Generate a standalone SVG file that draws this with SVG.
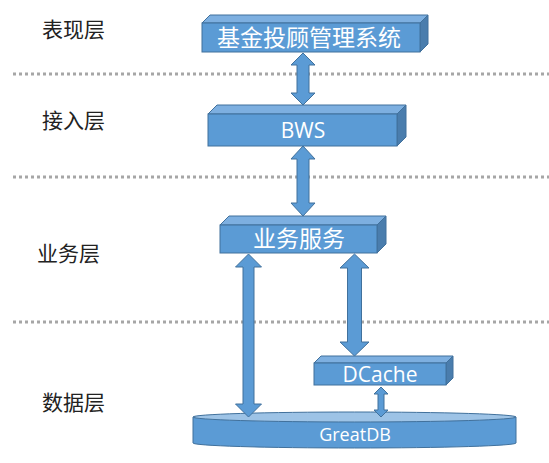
<svg xmlns="http://www.w3.org/2000/svg" width="549" height="463" viewBox="0 0 549 463">
<style>
.front{fill:#5B9BD5;stroke:#41719C;stroke-width:1}
.top{fill:#7DAFE0;stroke:#41719C;stroke-width:1}
.side{fill:#4A7DAD;stroke:#41719C;stroke-width:1}
.arrow{fill:#5B9BD5;stroke:#41719C;stroke-width:1}
.sep{stroke:#A6A6A6;stroke-width:3;stroke-dasharray:3 3;fill:none}
.layer{font-family:"Noto Sans CJK SC","Noto Sans",sans-serif;font-size:21px;fill:#222}
.cn{font-family:"Noto Sans CJK SC","Noto Sans",sans-serif;font-size:23px;fill:#fff;text-anchor:middle}
.en{font-family:"Open Sans","Liberation Sans",sans-serif;font-size:21px;fill:#fff;text-anchor:middle}
.db{font-family:"Open Sans","Liberation Sans",sans-serif;font-size:18px;fill:#fff;text-anchor:middle}
</style>
<rect width="549" height="463" fill="#fff"/>
<g id="separators">
<line class="sep" x1="13" y1="74" x2="549" y2="74"/>
<line class="sep" x1="13" y1="177" x2="549" y2="177"/>
<line class="sep" x1="13" y1="322" x2="549" y2="322"/>
</g>
<g id="labels">
<text class="layer" x="42" y="37">表现层</text>
<text class="layer" x="42" y="128">接入层</text>
<text class="layer" x="37" y="261">业务层</text>
<text class="layer" x="42" y="410">数据层</text>
</g>
<g id="greatdb">
<path class="front" d="M193,417 L193,443 A161.5,5 0 0 0 516,443 L516,417 Z"/>
<ellipse cx="354.5" cy="417" rx="161.5" ry="5" style="fill:#9DC3E6;stroke:#41719C;stroke-width:1"/>
<text class="db" x="355" y="441">GreatDB</text>
</g>
<g id="connectors">
<polygon class="arrow" points="303,53 315,65 309,65 309,93 315,93 303,105 291,93 297,93 297,65 291,65"/>
<polygon class="arrow" points="303,146 315,159 309,159 309,203 315,203 303,216 291,203 297,203 297,159 291,159"/>
<polygon class="arrow" points="248.5,254 261.5,267 254,267 254,404 261.5,404 248.5,417 235.5,404 243,404 243,267 235.5,267"/>
<polygon class="arrow" points="354.5,254 369,268 361.5,268 361.5,342 369,342 354.5,356 340,342 347.5,342 347.5,268 340,268"/>
<polygon class="arrow" points="381,387 388,394 384,394 384,410 388,410 381,417 374,410 378,410 378,394 374,394"/>
</g>
<g id="node-system">
<polygon class="top" points="202,23 210,15 428,15 420,23"/>
<polygon class="side" points="420,23 428,15 428,44 420,52"/>
<rect class="front" x="202" y="23" width="218" height="29"/>
<text class="cn" x="309" y="46">基金投顾管理系统</text>
</g>
<g id="node-bws">
<polygon class="top" points="208,114 217,105 406,105 397,114"/>
<polygon class="side" points="397,114 406,105 406,137 397,146"/>
<rect class="front" x="208" y="114" width="189" height="32"/>
<text class="en" x="303" y="138">BWS</text>
</g>
<g id="node-service">
<polygon class="top" points="220,225 229,216 386,216 377,225"/>
<polygon class="side" points="377,225 386,216 386,244 377,253"/>
<rect class="front" x="220" y="225" width="157" height="28"/>
<text class="cn" x="299" y="247">业务服务</text>
</g>
<g id="node-dcache">
<polygon class="top" points="314,363 321,356 453,356 446,363"/>
<polygon class="side" points="446,363 453,356 453,378 446,385"/>
<rect class="front" x="314" y="363" width="132" height="22"/>
<text class="en" x="380" y="382">DCache</text>
</g>
</svg>
